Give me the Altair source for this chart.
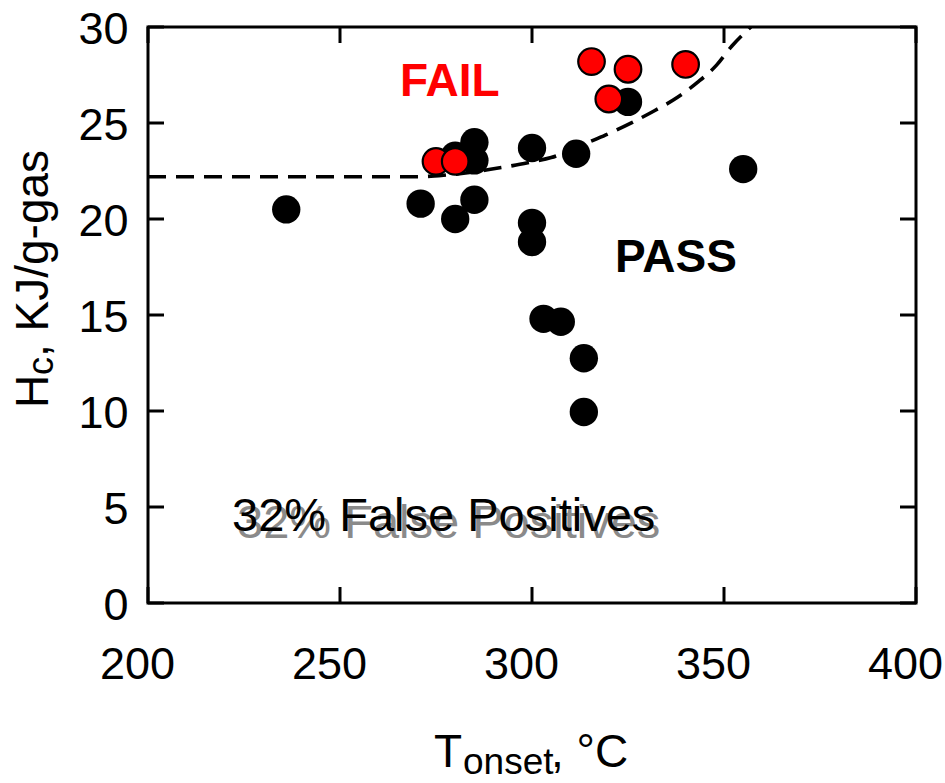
import altair as alt
import pandas as pd

# ---- data ----
pass_x = [236, 271, 280, 285, 285, 285, 280, 300, 311.5, 325, 355, 300, 300, 303, 307.5, 313.5, 313.5]
pass_y = [20.5, 20.8, 20.0, 21.0, 24.0, 23.05, 23.3, 23.7, 23.4, 26.1, 22.6, 19.8, 18.8, 14.8, 14.65, 12.75, 9.95]

fail_x = [275, 280, 315.5, 320, 325, 340]
fail_y = [23.0, 23.0, 28.2, 26.25, 27.8, 28.05]

curve_x = [200, 250, 270, 278, 285, 290, 295, 300, 305, 310, 315, 320, 326, 332, 338, 343, 348, 352, 357]
curve_y = [22.2, 22.2, 22.2, 22.3, 22.45, 22.62, 22.78, 22.98, 23.2, 23.58, 24.02, 24.45, 25.02, 25.65, 26.35, 27.1, 28.0, 29.0, 30.0]

x_ticks = [200, 250, 300, 350, 400]
y_ticks = [0, 5, 10, 15, 20, 25, 30]

FONT = "Liberation Sans"

x_axis = alt.Axis(values=x_ticks, title=None, grid=False, domain=False, ticks=False, tickSize=0,
                  labelFontSize=45, labelFont=FONT, labelColor="black", labelPadding=39,
                  labelOffset=-11, labelFlush=False, labelOverlap=False)
y_axis = alt.Axis(values=y_ticks, title=None, grid=False, domain=False, ticks=False, tickSize=0,
                  labelFontSize=45, labelFont=FONT, labelColor="black", labelPadding=20,
                  labelOffset=2, labelFlush=False, labelOverlap=False)
x_scale = alt.Scale(domain=[200, 400], nice=False, zero=False)
y_scale = alt.Scale(domain=[0, 30], nice=False, zero=False)


def X():
    return alt.X("x:Q", scale=x_scale, axis=x_axis)


def Y():
    return alt.Y("y:Q", scale=y_scale, axis=y_axis)


pass_df = pd.DataFrame({"x": pass_x, "y": pass_y})
fail_df = pd.DataFrame({"x": fail_x, "y": fail_y})
curve_df = pd.DataFrame({"x": curve_x, "y": curve_y})

curve = alt.Chart(curve_df).mark_line(
    color="black", strokeWidth=3.6, strokeDash=[18, 10], interpolate="monotone"
).encode(x=X(), y=Y())

pass_pts = alt.Chart(pass_df).mark_circle(size=804, color="black", opacity=1).encode(x=X(), y=Y())
fail_pts = alt.Chart(fail_df).mark_circle(
    size=707, color="#ff0000", opacity=1, stroke="black", strokeWidth=2.2
).encode(x=X(), y=Y())

fail_txt = alt.Chart(pd.DataFrame({"x": [278.6], "y": [26.4], "t": ["FAIL"]})).mark_text(
    font=FONT, fontSize=46, fontWeight="bold", color="#ff0000", align="center", baseline="alphabetic"
).encode(x=X(), y=Y(), text="t:N")
pass_txt = alt.Chart(pd.DataFrame({"x": [337.5], "y": [17.24], "t": ["PASS"]})).mark_text(
    font=FONT, fontSize=46, fontWeight="bold", color="black", align="center", baseline="alphabetic"
).encode(x=X(), y=Y(), text="t:N")

fp_df = pd.DataFrame({"x": [221.9], "y": [3.75], "t": ["32% False Positives"]})
fp_shadow = alt.Chart(fp_df).mark_text(
    font=FONT, fontSize=47, color="#8a8a8a", align="left", baseline="alphabetic", dx=5, dy=7
).encode(x=X(), y=Y(), text="t:N")
fp_txt = alt.Chart(fp_df).mark_text(
    font=FONT, fontSize=47, color="black", align="left", baseline="alphabetic"
).encode(x=X(), y=Y(), text="t:N")

# inward ticks on all four sides
xt_df = pd.DataFrame({"x": x_ticks})
yt_df = pd.DataFrame({"y": y_ticks})
tick_style = dict(color="black", strokeWidth=3)
t_bottom = alt.Chart(xt_df).mark_rule(**tick_style).encode(x=X(), y=alt.value(576), y2=alt.value(560))
t_top = alt.Chart(xt_df).mark_rule(**tick_style).encode(x=X(), y=alt.value(0), y2=alt.value(16))
t_left = alt.Chart(yt_df).mark_rule(**tick_style).encode(y=Y(), x=alt.value(0), x2=alt.value(16))
t_right = alt.Chart(yt_df).mark_rule(**tick_style).encode(y=Y(), x=alt.value(768), x2=alt.value(752))

# axis titles with subscripts
xt_T = alt.Chart(pd.DataFrame({"t": ["T"]})).mark_text(
    font=FONT, fontSize=46, color="black", align="left", baseline="alphabetic"
).encode(x=alt.value(286), y=alt.value(740), text="t:N")
xt_sub = alt.Chart(pd.DataFrame({"t": ["onset"]})).mark_text(
    font=FONT, fontSize=37, color="black", align="left", baseline="alphabetic"
).encode(x=alt.value(315), y=alt.value(747), text="t:N")
xt_rest = alt.Chart(pd.DataFrame({"t": [", °C"]})).mark_text(
    font=FONT, fontSize=46, color="black", align="left", baseline="alphabetic"
).encode(x=alt.value(403), y=alt.value(740), text="t:N")

yt_H = alt.Chart(pd.DataFrame({"t": ["H"]})).mark_text(
    font=FONT, fontSize=46, color="black", align="left", baseline="alphabetic", angle=270
).encode(x=alt.value(-100), y=alt.value(381), text="t:N")
yt_sub = alt.Chart(pd.DataFrame({"t": ["c"]})).mark_text(
    font=FONT, fontSize=36, color="black", align="left", baseline="alphabetic", angle=270
).encode(x=alt.value(-95), y=alt.value(348), text="t:N")
yt_rest = alt.Chart(pd.DataFrame({"t": [", KJ/g-gas"]})).mark_text(
    font=FONT, fontSize=46, color="black", align="left", baseline="alphabetic", angle=270
).encode(x=alt.value(-100), y=alt.value(330), text="t:N")

chart = alt.layer(
    curve, pass_pts, fail_pts, fail_txt, pass_txt, fp_shadow, fp_txt,
    t_bottom, t_top, t_left, t_right,
    xt_T, xt_sub, xt_rest, yt_H, yt_sub, yt_rest,
).properties(
    width=768, height=576,
    autosize=alt.AutoSizeParams(type="none"),
    padding={"left": 148, "top": 27, "right": 29, "bottom": 180},
    background="white",
).configure_view(stroke="black", strokeWidth=3).configure_axis(labelFont=FONT)

chart.save("out.html", embed_options={"renderer": "svg", "actions": False})
